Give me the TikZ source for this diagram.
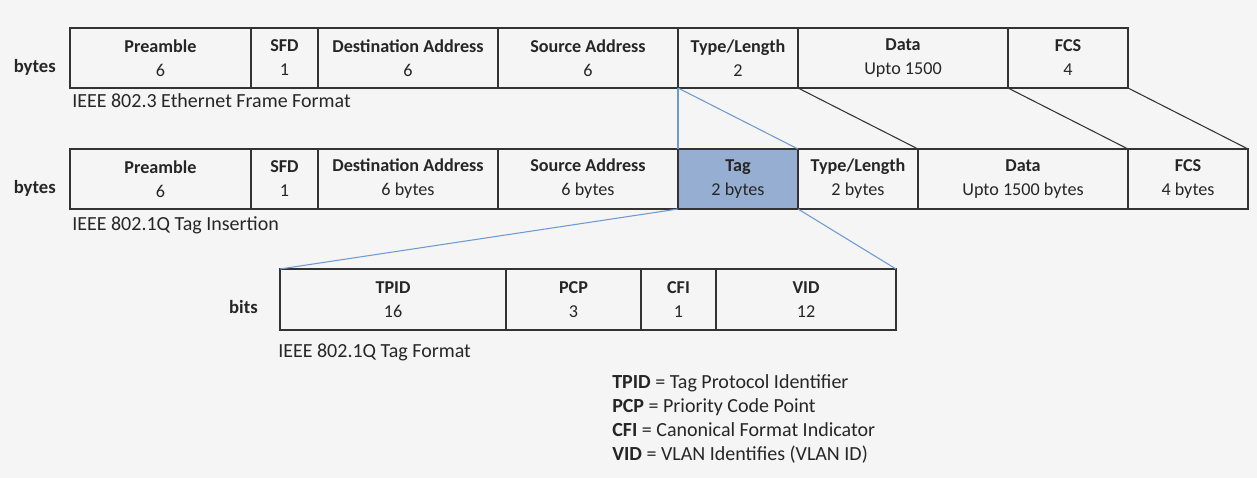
\documentclass[tikz,border=0pt]{standalone}
\usepackage{fontspec}
\setmainfont{Carlito}
\definecolor{bgcol}{HTML}{F5F5F5}
\definecolor{ink}{HTML}{262626}
\definecolor{framecol}{HTML}{333333}
\definecolor{tagfill}{HTML}{95AED1}
\definecolor{linkblue}{HTML}{6F9AD0}
\begin{document}
\begin{tikzpicture}[x=0.75pt,y=-0.75pt,
  field/.style={draw=framecol, line width=1pt, inner sep=0pt, outer sep=0pt,
    align=center, text=ink, font=\fontsize{13.6}{18}\selectfont,
    minimum height=60*0.75pt},
  unitlbl/.style={anchor=base east, text=ink, font=\fontsize{14}{16}\selectfont\bfseries, inner sep=0pt},
  caption/.style={anchor=base west, text=ink, font=\fontsize{15}{18}\selectfont, inner sep=0pt},
  legend/.style={anchor=base west, text=ink, font=\fontsize{15}{18}\selectfont, inner sep=0pt},
  bluelink/.style={draw=linkblue, line width=0.8pt},
  blacklink/.style={draw=framecol, line width=0.8pt}]
\fill[bgcol] (0,0) rectangle (1257,478);
\useasboundingbox (0,0) rectangle (1257,478);

% IEEE 802.3 frame
\node[field, minimum width=181*0.75pt] (a1) at (160.5,58) {\textbf{Preamble}\\6};
\node[field, minimum width=67*0.75pt]  (a2) at (284.5,58) {\textbf{SFD}\\1};
\node[field, minimum width=180*0.75pt] (a3) at (408,58)   {\textbf{Destination Address}\\6};
\node[field, minimum width=180*0.75pt] (a4) at (588,58)   {\textbf{Source Address}\\6};
\node[field, minimum width=120*0.75pt] (a5) at (738,58)   {\textbf{Type/Length}\\2};
\node[field, minimum width=210*0.75pt] (a6) at (903,58)   {\textbf{Data}\\Upto 1500};
\node[field, minimum width=120*0.75pt] (a7) at (1068,58)  {\textbf{FCS}\\4};
\node[unitlbl] (ua) at (56,73) {bytes};
\node[caption] (ca) at (72,108) {IEEE 802.3 Ethernet Frame Format};

% IEEE 802.1Q tagged frame
\node[field, minimum width=181*0.75pt] (b1) at (160.5,179) {\textbf{Preamble}\\6};
\node[field, minimum width=67*0.75pt]  (b2) at (284.5,179) {\textbf{SFD}\\1};
\node[field, minimum width=180*0.75pt] (b3) at (408,179)   {\textbf{Destination Address}\\6 bytes};
\node[field, minimum width=180*0.75pt] (b4) at (588,179)   {\textbf{Source Address}\\6 bytes};
\node[field, minimum width=120*0.75pt, fill=tagfill] (b5) at (738,179) {\textbf{Tag}\\2 bytes};
\node[field, minimum width=120*0.75pt] (b6) at (858,179)   {\textbf{Type/Length}\\2 bytes};
\node[field, minimum width=210*0.75pt] (b7) at (1023,179)  {\textbf{Data}\\Upto 1500 bytes};
\node[field, minimum width=120*0.75pt] (b8) at (1188,179)  {\textbf{FCS}\\4 bytes};
\node[unitlbl] (ub) at (56,193.5) {bytes};
\node[caption] (cb) at (72,230) {IEEE 802.1Q Tag Insertion};

% 802.1Q tag fields
\node[field, minimum width=226*0.75pt, minimum height=61*0.75pt] (c1) at (393,299.5)   {\textbf{TPID}\\16};
\node[field, minimum width=135*0.75pt, minimum height=61*0.75pt] (c2) at (573.5,299.5) {\textbf{PCP}\\3};
\node[field, minimum width=75*0.75pt,  minimum height=61*0.75pt] (c3) at (678.5,299.5) {\textbf{CFI}\\1};
\node[field, minimum width=180*0.75pt, minimum height=61*0.75pt] (c4) at (806,299.5)   {\textbf{VID}\\12};
\node[unitlbl] (uc) at (258,313) {bits};
\node[caption] (cc) at (278,357) {IEEE 802.1Q Tag Format};

% expansion lines between the rows
\draw[bluelink] (a5.south west) -- (b5.north west);
\draw[bluelink] (a5.south west) -- (b5.north east);
\draw[blacklink] (a5.south east) -- (b6.north east);
\draw[blacklink] (a6.south east) -- (b7.north east);
\draw[blacklink] (a7.south east) -- (b8.north east);
\draw[bluelink] (b5.south west) -- (c1.north west);
\draw[bluelink] (b5.south east) -- (c4.north east);

% abbreviations
\node[legend] (l1) at (612,388) {\textbf{TPID} = Tag Protocol Identifier};
\node[legend] (l2) at (612,412) {\textbf{PCP} = Priority Code Point};
\node[legend] (l3) at (612,436) {\textbf{CFI} = Canonical Format Indicator};
\node[legend] (l4) at (612,460) {\textbf{VID} = VLAN Identifies (VLAN ID)};
\end{tikzpicture}
\end{document}
